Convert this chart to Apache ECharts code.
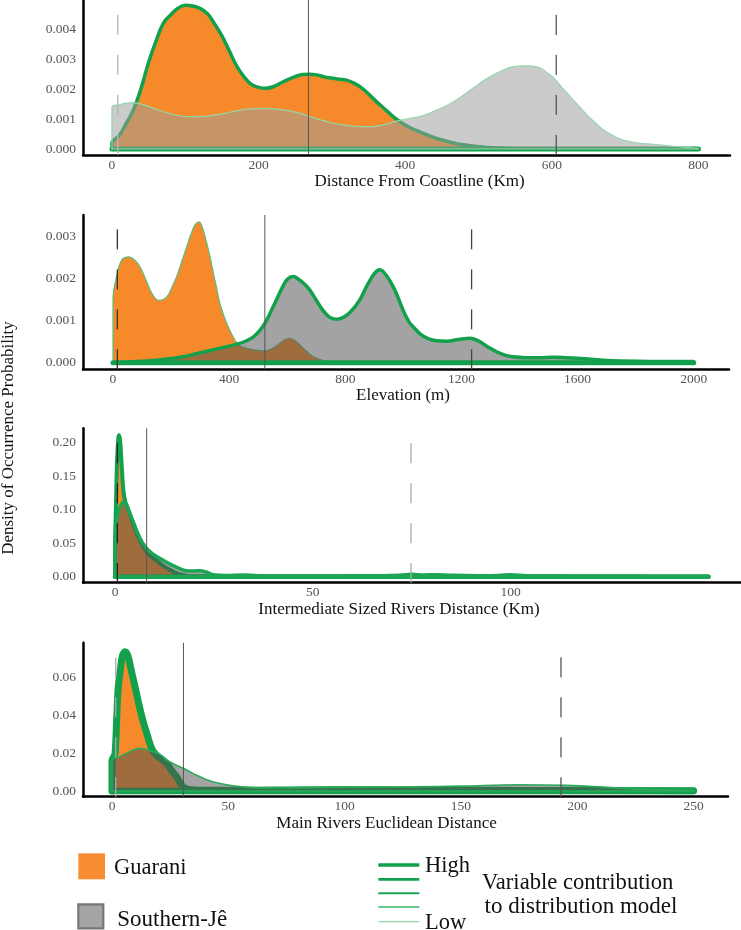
<!DOCTYPE html>
<html><head><meta charset="utf-8">
<script src="https://cdn.jsdelivr.net/npm/echarts@6/dist/echarts.min.js"></script>
<style>html,body{margin:0;padding:0;background:#fff}#c{width:741px;height:930px}</style>
</head><body><div id="c"></div>
<script>
// ---------- DATA ----------
// Panel 1: Distance From Coastline (Km)
const coastGuaraniX = [0,10,20,30,40,50,60,70,80,90,100,110,120,130,140,150,160,170,180,190,200,210,220,230,240,250,260,270,280,290,300,310,320,330,340,350,360,370,380,390,400,410,420,430,440,450,460,470,480,490,500,520,550,600,700,800];
const coastGuaraniY = [0.0002,0.00045,0.00088,0.00135,0.00205,0.0029,0.0036,0.0042,0.00448,0.0047,0.0048,0.00478,0.0047,0.00453,0.00418,0.00378,0.00328,0.00278,0.00242,0.00216,0.00206,0.00203,0.00208,0.0022,0.00232,0.00242,0.00249,0.0025,0.00247,0.00241,0.00237,0.00233,0.0023,0.0022,0.00205,0.00184,0.0016,0.00138,0.00116,0.00096,0.0008,0.00067,0.00057,0.00047,0.00038,0.0003,0.00024,0.00018,0.00014,0.00011,0.00008,0.00004,0.00001,0,0,0];
const coastSJX = [0,10,20,30,40,50,60,75,90,107,125,143,160,175,190,207,225,240,255,268,285,302,320,339,355,372,391,405,420,443,466,489,512,534,550,563,575,585,595,603,614,625,637,648,660,670,684,697,718,739,761,784,800];
const coastSJY = [0.0014,0.00148,0.00153,0.00155,0.0015,0.00142,0.00133,0.00121,0.00112,0.00108,0.00109,0.00114,0.00122,0.0013,0.00134,0.00136,0.00133,0.00128,0.0012,0.0011,0.00097,0.00086,0.00079,0.00075,0.00075,0.00082,0.00095,0.00102,0.00108,0.0013,0.00158,0.00197,0.00236,0.00264,0.00276,0.00278,0.00276,0.0027,0.00252,0.00236,0.00205,0.00175,0.00143,0.00114,0.00086,0.00064,0.00044,0.0003,0.0002,0.00016,0.0001,0.00005,0.00002];
const coastDashed = [8, 606];
const coastSolid = [268];
const coastXTicks = [0,200,400,600,800];
const coastYTicks = [0,0.001,0.002,0.003,0.004];

// Panel 2: Elevation (m)
const elevGuaraniX = [0,12,30,53,81,100,116,135,157,185,205,219,237,254,268,282,296,307,317,332,346,358,368,380,392,410,427,443,460,490,523,550,575,590,606,625,644,668,690,724,760,800,1200,1600,2000];
const elevGuaraniY = [0.0015,0.00204,0.00243,0.00251,0.00239,0.00218,0.00192,0.00163,0.00148,0.00156,0.00182,0.00204,0.0024,0.00275,0.00303,0.00326,0.00334,0.00322,0.00299,0.00258,0.00212,0.00174,0.00141,0.00115,0.00093,0.00066,0.00046,0.00038,0.00034,0.0003,0.00028,0.00034,0.00046,0.00054,0.00058,0.00053,0.00042,0.00026,0.00014,0.00005,0.00001,0,0,0,0];
const elevSJX = [0,60,120,180,241,290,342,385,427,460,485,505,523,543,563,583,600,621,640,660,678,700,720,745,770,795,820,850,875,900,919,940,960,976,1000,1020,1034,1060,1085,1114,1150,1190,1229,1260,1290,1321,1350,1378,1420,1470,1515,1560,1610,1687,1750,1850,2000];
const elevSJY = [0.00001,0.00002,0.00004,0.00008,0.00014,0.00022,0.0003,0.00037,0.00044,0.00052,0.00062,0.00076,0.00093,0.0012,0.00149,0.00178,0.00197,0.00204,0.00197,0.00186,0.00172,0.00148,0.00127,0.00108,0.00103,0.00108,0.00122,0.00149,0.00183,0.00211,0.0022,0.00208,0.00186,0.00164,0.00123,0.00096,0.00085,0.00067,0.00057,0.00052,0.00051,0.00055,0.00058,0.00051,0.00038,0.00026,0.00018,0.00014,0.00012,0.00012,0.00013,0.00012,0.0001,0.00006,0.00004,0.00003,0.00003];
const elevDashed = [15, 1235];
const elevSolid = [523];
const elevXTicks = [0,400,800,1200,1600,2000];
const elevYTicks = [0,0.001,0.002,0.003];

// Panel 3: Intermediate Sized Rivers Distance (Km)
const interGuaraniX = [0,0.25,0.5,0.75,1,1.25,1.5,1.8,2.1,2.6,3.4,4.6,5.8,7.2,8.8,10.5,12.5,14.7,16,18,20,25,150];
const interGuaraniY = [0.03,0.11,0.17,0.2,0.211,0.205,0.185,0.155,0.129,0.112,0.0995,0.079,0.061,0.044,0.032,0.024,0.015,0.0075,0.004,0.0015,0.0005,0,0];
const interSJX = [0,0.4,0.8,1.4,2.1,2.8,3.6,4.6,5.8,7,8,9.5,11.4,13.5,15.6,17.9,20,21.5,23,24.8,28,32.4,36,45,55,65,72,75,78,81,85,92,97,100,104,115,130,150];
const interSJY = [0.05,0.085,0.096,0.106,0.111,0.108,0.096,0.082,0.064,0.05,0.042,0.034,0.027,0.02,0.014,0.009,0.0085,0.009,0.007,0.003,0.0018,0.0025,0.0015,0.0012,0.0012,0.0015,0.002,0.0035,0.0025,0.003,0.002,0.0015,0.0018,0.003,0.0015,0.0008,0.0005,0.0003];
const interDashed = [0.6, 74.8];
const interSolid = [8.0];
const interXTicks = [0,50,100];
const interYTicks = [0,0.05,0.10,0.15,0.20];

// Panel 4: Main Rivers Euclidean Distance
const mainGuaraniX = [0,0.7,1.3,2,2.7,3.6,4.4,5.6,6.8,8.2,9.9,11.5,13.2,15.3,17.4,20,23.5,25.5,27.8,30.4,33,38,50,70,100,130,180,250];
const mainGuaraniY = [0.016,0.018,0.0196,0.0375,0.055,0.0638,0.0709,0.0735,0.0715,0.064,0.055,0.046,0.0375,0.029,0.0216,0.018,0.0146,0.011,0.0075,0.0023,0.0008,0.0004,0.0004,0.0005,0.0008,0.0005,0.0003,0.0002];
const mainSJX = [0,3,6.3,9,12,15,19.2,21.5,23.5,27,30.6,34,37.8,41,45,52,59,70,85,100,115,130,150,175,195,210,225,250];
const mainSJY = [0.0164,0.018,0.0199,0.0215,0.0225,0.0218,0.02,0.0185,0.0164,0.014,0.012,0.0098,0.0075,0.0058,0.0044,0.0028,0.0019,0.0016,0.0017,0.002,0.0021,0.0022,0.0026,0.0033,0.003,0.0022,0.001,0.0005];
const mainDashed = [1.6, 193];
const mainSolid = [30.7];
const mainXTicks = [0,50,100,150,200,250];
const mainYTicks = [0,0.02,0.04,0.06];

// ---------- STYLE / LAYOUT ----------
const GREEN = '#12a04c';
const ORANGE = '#F68A2A';
const FONT = 'Liberation Serif';
const panels = [
  {grid:{left:83, top:0, width:647, height:155}, xr:[-39.5,843], yr:[-0.0002,0.004978], dec:3,
   xt:coastXTicks, yt:coastYTicks, name:'Distance From Coastline (Km)', gap:14, shift:13,
   G:{x:coastGuaraniX, y:coastGuaraniY, w:3.5, c:GREEN, bw:5, bc:GREEN},
   S:{x:coastSJX, y:coastSJY, w:1.2, c:'#93d6ac', bw:1.2, bc:'#93d6ac', fill:'rgba(156,156,156,0.53)'},
   dashed:coastDashed, solid:coastSolid, dashTop:0.00448, dashColors:['#b4b4b4','#555']},
  {grid:{left:83, top:215, width:646, height:154.3}, xr:[-103.3,2121.5], yr:[-0.000156,0.0035], dec:3,
   xt:elevXTicks, yt:elevYTicks, name:'Elevation (m)', gap:11, shift:-3,
   G:{x:elevGuaraniX, y:elevGuaraniY, w:1.2, c:'#5cbb80', bw:1.2, bc:'#5cbb80'},
   S:{x:elevSJX, y:elevSJY, w:3.5, c:GREEN, bw:5, bc:GREEN, fill:'rgba(82,82,82,0.53)'},
   dashed:elevDashed, solid:elevSolid, dashTop:0.00316, dashColors:['#333','#444']},
  {grid:{left:83, top:428.3, width:658, height:154.4}, xr:[-8.09,158.2], yr:[-0.00896,0.2215], dec:2,
   xt:interXTicks, yt:interYTicks, name:'Intermediate Sized Rivers Distance (Km)', gap:15, shift:-13,
   G:{x:interGuaraniX, y:interGuaraniY, w:4, c:GREEN, bw:4.5, bc:GREEN},
   S:{x:interSJX, y:interSJY, w:3.5, c:'#1ba656', bw:4, bc:'#1ba656', fill:'rgba(82,82,82,0.53)'},
   dashed:interDashed, solid:interSolid, dashTop:0.1991, dashColors:['#222','#aaa']},
  {grid:{left:83, top:642.7, width:645, height:154}, xr:[-12.47,264.8], yr:[-0.003,0.07826], dec:2,
   xt:mainXTicks, yt:mainYTicks, name:'Main Rivers Euclidean Distance', gap:14, shift:-19,
   G:{x:mainGuaraniX, y:mainGuaraniY, w:7, c:GREEN, bw:6.5, bc:GREEN},
   S:{x:mainSJX, y:mainSJY, w:1.6, c:'#2aaa5c', bw:1.6, bc:'#2aaa5c', fill:'rgba(82,82,82,0.53)'},
   dashed:mainDashed, solid:mainSolid, dashTop:0.07055, dashColors:['#aaa','#555']}
];

function pairs(xs, ys){ return xs.map((x,i)=>[x, ys[i]]); }
function areaData(xs, ys){ return [[xs[0], 0]].concat(pairs(xs, ys)); }

const grids = [], xAxes = [], yAxes = [], series = [];
let z = 2;
panels.forEach((p, i) => {
  grids.push(Object.assign({containLabel:false}, p.grid));
  const pad = p.shift >= 0 ? [0,0,0,2*p.shift] : [0,-2*p.shift,0,0];
  xAxes.push({type:'value', gridIndex:i, min:p.xr[0], max:p.xr[1],
    axisLine:{show:true, onZero:false, lineStyle:{color:'#000', width:2.5}},
    axisTick:{show:false}, splitLine:{show:false},
    axisLabel:{customValues:p.xt, color:'#555', fontFamily:FONT, fontSize:13.5, margin:3, formatter:v=>String(v)},
    name:p.name, nameLocation:'middle', nameGap:p.gap,
    nameTextStyle:{color:'#111', fontFamily:FONT, fontSize:17, padding:pad}});
  yAxes.push({type:'value', gridIndex:i, min:p.yr[0], max:p.yr[1],
    axisLine:{show:true, onZero:false, lineStyle:{color:'#000', width:2.5}},
    axisTick:{show:false}, splitLine:{show:false},
    axisLabel:{customValues:p.yt, color:'#555', fontFamily:FONT, fontSize:13.5, margin:7, formatter:v=>v.toFixed(p.dec)}});
  const common = {type:'line', xAxisIndex:i, yAxisIndex:i, symbol:'none', silent:true, animation:false};
  // Guarani area
  series.push(Object.assign({}, common, {name:'Guarani', z:z++, smooth:0.4, data:areaData(p.G.x, p.G.y),
    lineStyle:{color:p.G.c, width:p.G.w, cap:'round', join:'round'}, areaStyle:{color:ORANGE, opacity:1, origin:0}}));
  series.push(Object.assign({}, common, {z:z++, data:[[p.G.x[0],0],[p.G.x[p.G.x.length-1],0]],
    lineStyle:{color:p.G.bc, width:p.G.bw, cap:'round'}}));
  // Southern-Je area
  series.push(Object.assign({}, common, {name:'Southern-Jê', z:z++, smooth:0.4, data:areaData(p.S.x, p.S.y),
    lineStyle:{color:p.S.c, width:p.S.w, cap:'round', join:'round'}, areaStyle:{color:p.S.fill, opacity:1, origin:0}}));
  series.push(Object.assign({}, common, {z:z++, data:[[p.S.x[0],0],[p.S.x[p.S.x.length-1],0]],
    lineStyle:{color:p.S.bc, width:p.S.bw, cap:'round'}}));
  // vertical reference lines
  p.dashed.forEach((x, k) => {
    series.push(Object.assign({}, common, {z:z++, data:[[x, p.dashTop],[x, p.yr[0]]],
      lineStyle:{color:p.dashColors[k], width:1.3, type:[20,20]}}));
  });
  p.solid.forEach(x => {
    series.push(Object.assign({}, common, {z:z++, data:[[x, p.yr[1]],[x, p.yr[0]]],
      lineStyle:{color:'#555', width:1}}));
  });
});

const txt = (x, y, text, size, extra) => Object.assign({type:'text', x, y,
  style:{text, fontSize:size, fontFamily:FONT, fill:'#111', align:'left', verticalAlign:'middle'}}, extra || {});
const legendLine = (y, w, c) => ({type:'line', shape:{x1:378.3, y1:y, x2:419.3, y2:y}, style:{stroke:c, lineWidth:w}});

const graphic = [
  {type:'text', x:9, y:438, rotation:Math.PI/2,
   style:{text:'Density of Occurrence Probability', fontSize:17, fontFamily:FONT, fill:'#111', align:'center', verticalAlign:'middle'}},
  {type:'rect', shape:{x:78.3, y:853.3, width:26.7, height:26}, style:{fill:'#F98D33'}},
  txt(114, 867.7, 'Guarani', 22.5),
  {type:'rect', shape:{x:78.3, y:904.3, width:25, height:24}, style:{fill:'#A5A5A5', stroke:'#777', lineWidth:2.2}},
  txt(117.3, 920, 'Southern-Jê', 23),
  legendLine(865, 3.7, GREEN),
  legendLine(879.3, 2.7, GREEN),
  legendLine(893.3, 2, '#1ca656'),
  legendLine(907, 1.5, '#3cb46c'),
  legendLine(921.7, 1.2, '#92d6ab'),
  txt(425, 865.7, 'High', 22.5),
  txt(425, 923, 'Low', 22.5),
  txt(482, 883.3, 'Variable contribution', 22.6),
  txt(484.5, 906.7, 'to distribution model', 23)
];

const chart = echarts.init(document.getElementById('c'), null, {renderer:'canvas'});
chart.setOption({animation:false, backgroundColor:'#fff', grid:grids, xAxis:xAxes, yAxis:yAxes, series, graphic});
</script></body></html>
